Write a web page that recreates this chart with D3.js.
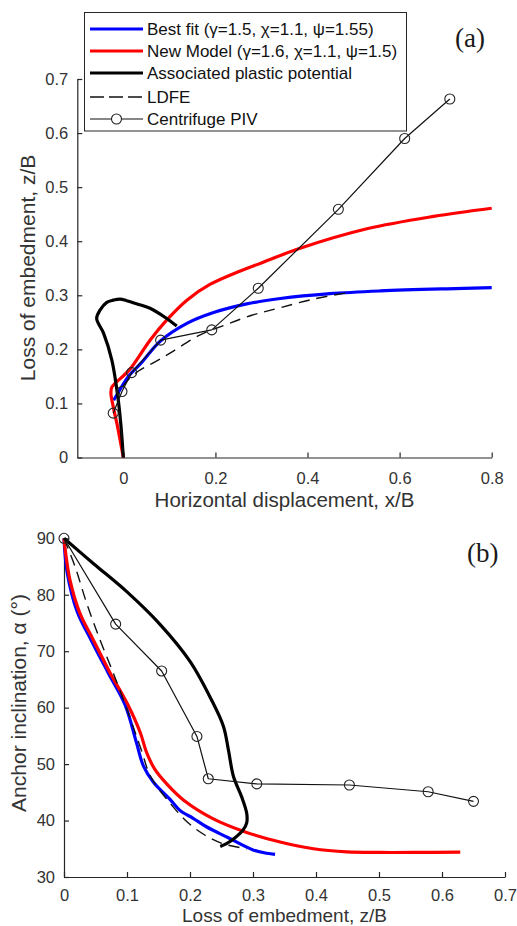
<!DOCTYPE html>
<html>
<head>
<meta charset="utf-8">
<script src="https://cdn.jsdelivr.net/npm/d3@7/dist/d3.min.js"></script>
<style>
  body { margin: 0; background: #fff; }
  svg { display: block; }
</style>
</head>
<body>
<svg id="fig" width="517" height="926"></svg>
<script>
// ---------- tick values ----------
const topTicksX = [0, 0.2, 0.4, 0.6, 0.8];
const topTicksY = [0, 0.1, 0.2, 0.3, 0.4, 0.5, 0.6, 0.7];
const botTicksX = [0, 0.1, 0.2, 0.3, 0.4, 0.5, 0.6, 0.7];
const botTicksY = [30, 40, 50, 60, 70, 80, 90];

// ---------- legend labels ----------
const seriesNames = [
  "Best fit (\u03b3=1.5, \u03c7=1.1, \u03c8=1.55)",
  "New Model (\u03b3=1.6, \u03c7=1.1, \u03c8=1.5)",
  "Associated plastic potential",
  "LDFE",
  "Centrifuge PIV"
];

// ---------- (a) trajectories: [x/B, z/B] ----------
const trajBestFit = [[-0.021,0.106],[-0.014,0.116],[0.011,0.150],[0.040,0.176],[0.080,0.215],
  [0.138,0.248],[0.196,0.268],[0.268,0.284],[0.341,0.294],[0.449,0.303],
  [0.558,0.308],[0.703,0.312],[0.8,0.314]];
const trajNewModel = [[0,0],[-0.014,0.063],[-0.022,0.094],[-0.027,0.119],[-0.025,0.130],
  [-0.018,0.137],[0.013,0.162],[0.058,0.217],[0.094,0.254],[0.138,0.291],[0.188,0.320],
  [0.254,0.345],[0.297,0.359],[0.384,0.387],[0.529,0.423],[0.674,0.446],[0.8,0.461]];
const trajAssociated = [[0,0],[-0.005,0.057],[-0.011,0.106],[-0.025,0.180],[-0.043,0.230],
  [-0.058,0.257],[-0.051,0.272],[-0.036,0.287],[-0.022,0.291],[-0.007,0.293],[0.007,0.290],
  [0.030,0.284],[0.058,0.276],[0.091,0.259],[0.116,0.243]];
const trajLDFE = [[0,0],[-0.005,0.06],[-0.011,0.112],[0.004,0.137],[0.033,0.160],[0.065,0.175],
  [0.105,0.195],[0.167,0.227],[0.221,0.245],[0.279,0.263],[0.341,0.277],[0.413,0.293],[0.482,0.304]];
const trajPIV = [[-0.022,0.082],[-0.003,0.122],[0.018,0.157],[0.081,0.217],[0.192,0.236],
  [0.293,0.313],[0.467,0.459],[0.611,0.590],[0.709,0.663]];

// ---------- (b) inclination: [z/B, alpha deg] ----------
const inclBestFit = [[0,90],[0.005,84],[0.021,77],[0.043,72],[0.070,66.2],[0.097,60.5],
  [0.115,53.8],[0.126,49.7],[0.142,46.8],[0.168,43.8],[0.184,41.8],[0.205,40.4],[0.226,38.9],
  [0.260,37.0],[0.300,34.8],[0.322,34.2],[0.335,34.0]];
const inclNewModel = [[0,90],[0.002,87.9],[0.0095,82.6],[0.025,76.8],[0.0465,72.0],[0.073,66.2],
  [0.101,60.6],[0.121,55.6],[0.131,52.1],[0.144,49.1],[0.163,46.5],[0.190,43.6],[0.237,40.3],
  [0.290,37.9],[0.343,36.2],[0.396,35.0],[0.449,34.45],[0.502,34.35],[0.554,34.35],[0.629,34.4]];
const inclAssociated = [[0,90],[0.047,85.5],[0.100,80.5],[0.152,74.8],[0.200,68.2],[0.234,61.4],
  [0.253,56.7],[0.261,52.5],[0.269,47.8],[0.282,44.2],[0.290,41.3],[0.290,39.6],[0.284,38.3],
  [0.271,36.9],[0.258,35.9],[0.248,35.4]];
const inclLDFE = [[0,90],[0.0175,85],[0.036,78.5],[0.057,72.05],[0.078,66.2],[0.100,59.7],
  [0.123,52.4],[0.137,47.9],[0.163,43.8],[0.197,39.6],[0.224,37.4],[0.252,35.9],[0.284,35.1],[0.29,34.9]];
const inclPIV = [[0,90],[0.082,74.8],[0.155,66.5],[0.211,54.9],[0.229,47.4],[0.306,46.5],
  [0.453,46.3],[0.578,45.1],[0.650,43.4]];

// ---------- styles ----------
const SANS = "'Liberation Sans', Arial, Helvetica, sans-serif";
const SERIF = "'Liberation Serif', 'Times New Roman', serif";
const AXIS = "#262626";
const TICK_TEXT = "#333333";
const BLUE = "#0000ff", RED = "#ff0000", BLACK = "#000000";

const svg = d3.select("#fig");
svg.append("rect").attr("width", 517).attr("height", 926).attr("fill", "#fff");

const fmt1 = d => d === 0 ? "0" : d3.format(".1f")(d);

function drawPanel(o) {
  const g = svg.append("g");
  const x = d3.scaleLinear().domain(o.xDomain).range(o.xRange);
  const y = d3.scaleLinear().domain(o.yDomain).range(o.yRange);

  const xa = g.append("g").attr("transform", `translate(0,${o.yRange[0]})`)
    .call(d3.axisBottom(x).tickValues(o.xTicks).tickFormat(o.xFmt)
      .tickSizeInner(-5).tickSizeOuter(0).tickPadding(o.xPad));
  const ya = g.append("g").attr("transform", `translate(${o.xRange[0]},0)`)
    .call(d3.axisLeft(y).tickValues(o.yTicks).tickFormat(o.yFmt)
      .tickSizeInner(-5).tickSizeOuter(0).tickPadding(9));
  [xa, ya].forEach(a => {
    a.select(".domain").attr("stroke", AXIS).attr("stroke-width", 1.2);
    a.selectAll(".tick line").attr("stroke", AXIS).attr("stroke-width", 1.2);
    a.selectAll(".tick text").attr("fill", TICK_TEXT)
      .style("font-family", SANS).style("font-size", "16.5px");
  });

  g.append("text").attr("x", (o.xRange[0] + o.xRange[1]) / 2).attr("y", o.xLabelY)
    .attr("text-anchor", "middle").attr("fill", TICK_TEXT)
    .style("font-family", SANS).style("font-size", o.xLabelSize + "px")
    .text(o.xLabel);
  g.append("text")
    .attr("transform", `translate(${o.yLabelX},${o.yLabelCY}) rotate(-90)`)
    .attr("text-anchor", "middle").attr("fill", TICK_TEXT)
    .style("font-family", SANS).style("font-size", "21px")
    .text(o.yLabel);

  const line = d3.line().x(d => x(d[0])).y(d => y(d[1]))
    .curve(d3.curveCatmullRom.alpha(0.5));
  const plot = g.append("g").attr("fill", "none")
    .attr("stroke-linejoin", "round").attr("stroke-linecap", "butt");

  plot.append("path").datum(o.best).attr("d", line)
    .attr("stroke", BLUE).attr("stroke-width", 3.2);
  plot.append("path").datum(o.model).attr("d", line)
    .attr("stroke", RED).attr("stroke-width", 3.2);
  plot.append("path").datum(o.assoc).attr("d", line)
    .attr("stroke", BLACK).attr("stroke-width", 3.2);
  plot.append("path").datum(o.ldfe).attr("d", line)
    .attr("stroke", "#111").attr("stroke-width", 1.4).attr("stroke-dasharray", "11,7");
  plot.append("path").datum(o.piv).attr("d", d3.line().x(d => x(d[0])).y(d => y(d[1])))
    .attr("stroke", "#111").attr("stroke-width", 1.2);
  plot.selectAll("circle.piv").data(o.piv).join("circle").attr("class", "piv")
    .attr("cx", d => x(d[0])).attr("cy", d => y(d[1])).attr("r", 5)
    .attr("stroke", "#222").attr("stroke-width", 1.1).attr("fill", "none");

  g.append("text").attr("x", o.tagX).attr("y", o.tagY)
    .style("font-family", SERIF).style("font-size", "27px")
    .attr("fill", "#1a1a1a").text(o.tag);
  return g;
}

drawPanel({
  xDomain: [-0.1, 0.8], xRange: [77.3, 491.7],
  yDomain: [0, 0.7], yRange: [457.5, 79],
  xTicks: topTicksX, yTicks: topTicksY, xFmt: fmt1, yFmt: fmt1, xPad: 14.5,
  xLabel: "Horizontal displacement, x/B", xLabelY: 506.5, xLabelSize: 20.5,
  yLabel: "Loss of embedment, z/B", yLabelX: 35, yLabelCY: 268,
  best: trajBestFit, model: trajNewModel, assoc: trajAssociated, ldfe: trajLDFE, piv: trajPIV,
  tag: "(a)", tagX: 455, tagY: 47
});

drawPanel({
  xDomain: [0, 0.7], xRange: [64, 505],
  yDomain: [30, 90], yRange: [877, 538.3],
  xTicks: botTicksX, yTicks: botTicksY, xFmt: fmt1, yFmt: d3.format("d"), xPad: 12.4,
  xLabel: "Loss of embedment, z/B", xLabelY: 921.6, xLabelSize: 19,
  yLabel: "Anchor inclination, \u03b1 (\u00b0)", yLabelX: 26, yLabelCY: 703,
  best: inclBestFit, model: inclNewModel, assoc: inclAssociated, ldfe: inclLDFE, piv: inclPIV,
  tag: "(b)", tagX: 467, tagY: 562
});

// ---------- legend ----------
const leg = svg.append("g");
leg.append("rect").attr("x", 84.5).attr("y", 12.5).attr("width", 322).attr("height", 118.5)
  .attr("fill", "#fff").attr("stroke", AXIS).attr("stroke-width", 1);
const legStyles = [
  { stroke: BLUE, w: 3.2 },
  { stroke: RED, w: 3.2 },
  { stroke: BLACK, w: 3.2 },
  { stroke: "#111", w: 1.4, dash: "14,5" },
  { stroke: "#111", w: 1.2, marker: true }
];
const rowY = [29, 51, 73, 97, 119];
seriesNames.forEach((name, i) => {
  const s = legStyles[i];
  const l = leg.append("line").attr("x1", 90).attr("x2", 143)
    .attr("y1", rowY[i]).attr("y2", rowY[i])
    .attr("stroke", s.stroke).attr("stroke-width", s.w);
  if (s.dash) l.attr("stroke-dasharray", s.dash);
  if (s.marker) leg.append("circle").attr("cx", 116.5).attr("cy", rowY[i]).attr("r", 5)
    .attr("fill", "#fff").attr("stroke", "#222").attr("stroke-width", 1.1);
  leg.append("text").attr("x", 147).attr("y", rowY[i]).attr("dy", "0.35em")
    .attr("fill", "#111").style("font-family", SANS).style("font-size", "17px")
    .text(name);
});
</script>
</body>
</html>
